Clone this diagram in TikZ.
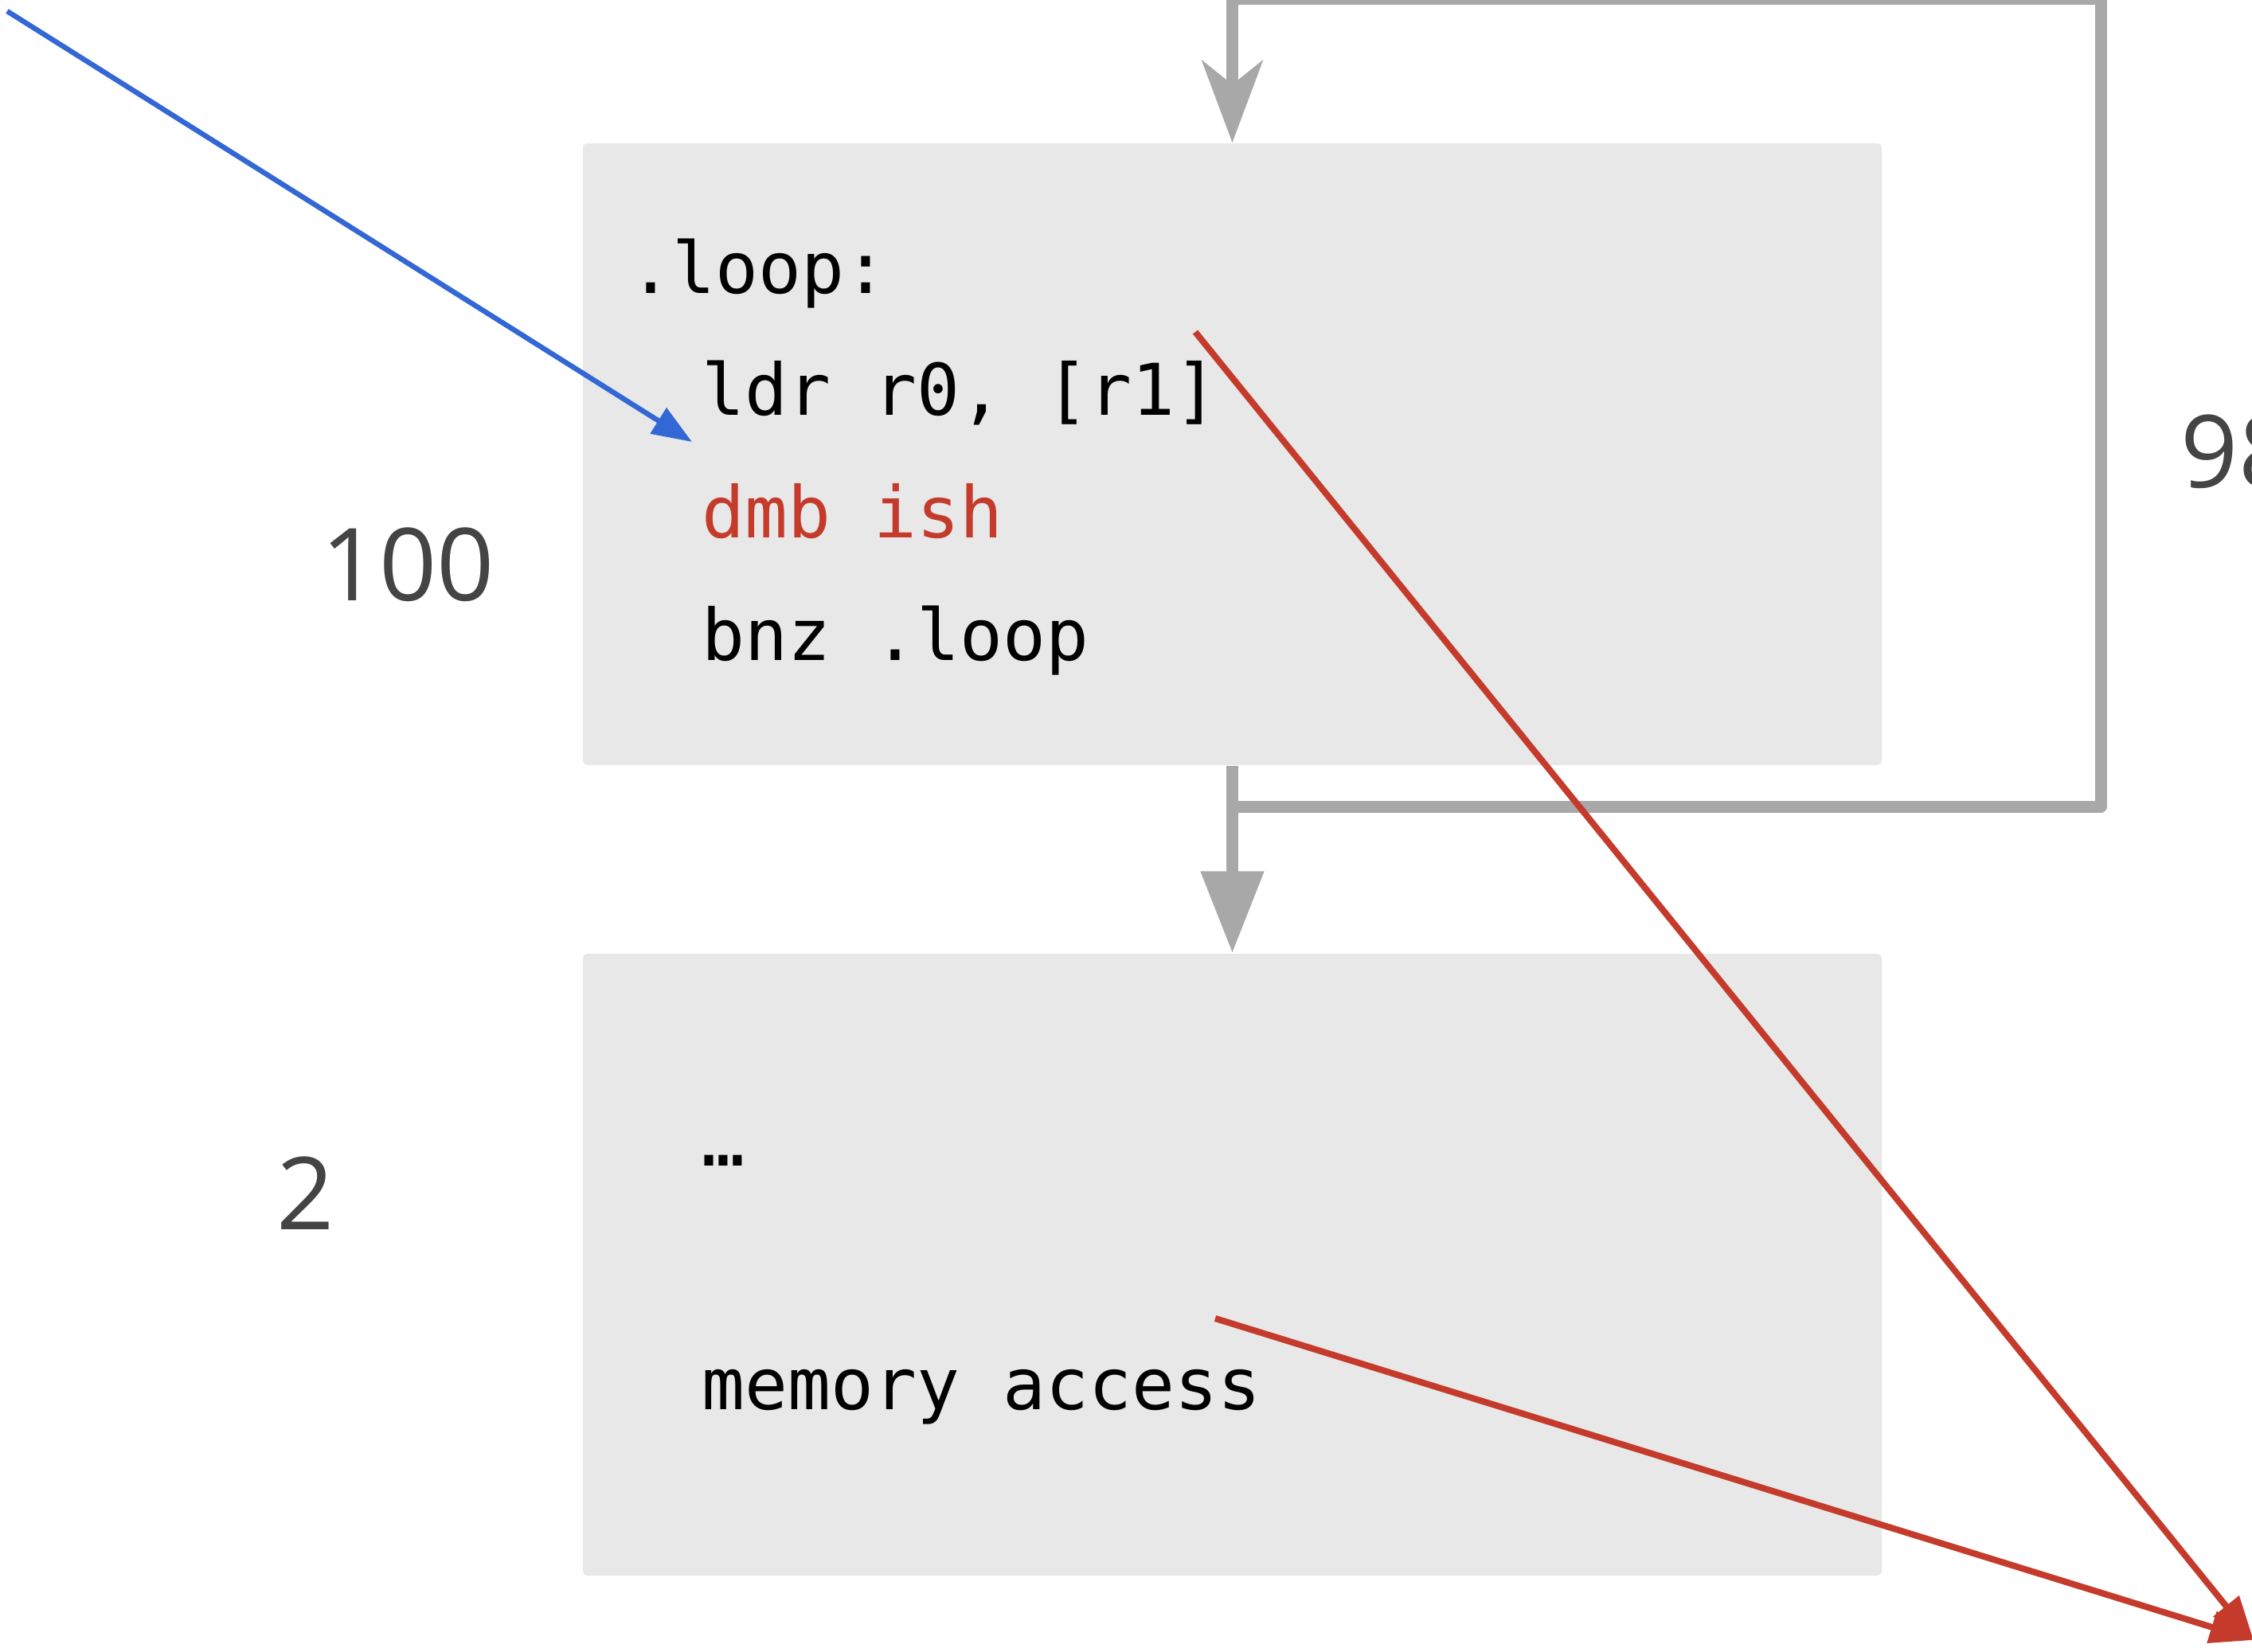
\documentclass[tikz,border=0pt]{standalone}
\usepackage{fontspec}
\setmonofont{DejaVu Sans Mono}
\newfontfamily\countfont{Open Sans}
\usetikzlibrary{arrows.meta,positioning}

\definecolor{boxgray}{HTML}{E8E8E8}
\definecolor{flowgray}{HTML}{A8A8A8}
\definecolor{barred}{HTML}{C43B2C}
\definecolor{inblue}{HTML}{3367D6}
\definecolor{cntgray}{HTML}{444444}

\begin{document}
\begin{tikzpicture}[line join=round,
  block/.style={fill=boxgray,minimum width=16.31cm,minimum height=7.81cm,inner sep=0pt,rounded corners=1.5pt},
  code/.style={anchor=base west,inner sep=0pt,font=\ttfamily\fontsize{25.5}{30}\selectfont},
  count/.style={anchor=base west,inner sep=0pt,text=cntgray,font=\countfont\fontsize{36}{40}\selectfont},
  flow/.style={draw=flowgray,line width=0.15cm},
  hit/.style={draw=barred,line width=0.08cm,-{Triangle[length=0.55cm,width=0.4cm]}}]

\useasboundingbox (0,0) rectangle (28.28,-20.75);
\clip (0,0) rectangle (28.28,-20.75);

\node[block] (loopBox) at (15.475,-5.705) {};
\node[block] (tailBox) at (15.475,-15.885) {};

% loop body
\node[code] (loopLbl) at (7.90,-3.68) {.loop:};
\node[code] (ldrLn) at (8.81,-5.21) {ldr r0, [r1]};
\node[code,text=barred] (dmbLn) at (8.81,-6.75) {dmb ish};
\node[code] (bnzLn) at (8.81,-8.29) {bnz .loop};

% after the loop
\node[code] (dotsLn) at (8.81,-14.64) {…};
\node[code] (memLn) at (8.81,-17.70) {memory access};

\node[count] (cnt100) at (4.03,-7.54) {100};
\node[count] (cnt2) at (3.47,-15.44) {2};
\node[count] (cnt98) at (27.38,-6.12) {98};

\coordinate (loopTop) at (15.475,0.02);
\coordinate (loopTurn) at (26.38,-10.13);
\coordinate (enterPt) at (0.09,-0.14);
\coordinate (barrierIn) at (8.69,-5.55);
\coordinate (ldrOut) at (15.01,-4.17);
\coordinate (memOut) at (15.26,-16.56);
\coordinate (cacheHit) at (28.30,-20.60);

\draw[flow,-{Triangle[length=1.03cm,width=0.76cm]}] (loopBox.south) -- (tailBox.north);
\draw[flow,-{Stealth[length=1.03cm,width=0.76cm,inset=0.3cm]}]
  (loopBox.south |- loopTurn) -- (loopTurn) |- (loopTop) -- (loopBox.north);

\draw[draw=inblue,line width=0.065cm,-{Triangle[length=0.5cm,width=0.37cm]}] (enterPt) -- (barrierIn);
\draw[hit] (ldrOut) -- (cacheHit);
\draw[hit] (memOut) -- (cacheHit);

\end{tikzpicture}
\end{document}
